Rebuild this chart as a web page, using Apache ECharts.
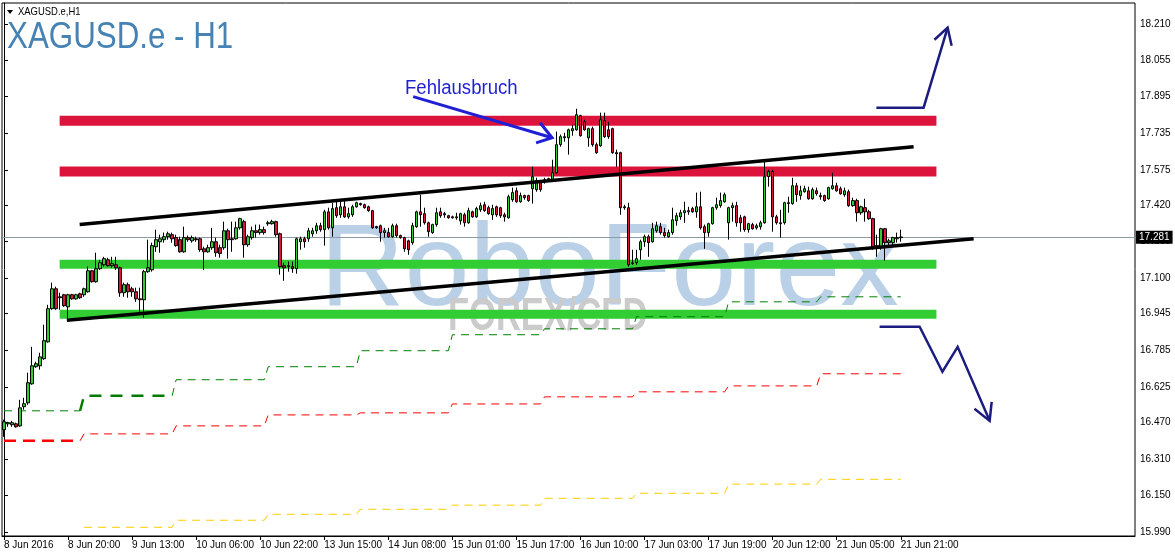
<!DOCTYPE html>
<html>
<head>
<meta charset="utf-8">
<script src="https://cdn.jsdelivr.net/npm/echarts@6/dist/echarts.min.js"></script>
<style>
  html, body { margin: 0; padding: 0; background: #ffffff; }
  #chart { width: 1175px; height: 558px; }
</style>
</head>
<body>
<div id="chart"></div>
<script>
// XAGUSD.e H1 candles, 8 Jun 2016 - 21 Jun 2016
const timeLabels = ['8 Jun 2016', '8 Jun 20:00', '9 Jun 13:00', '10 Jun 06:00', '10 Jun 22:00',
  '13 Jun 15:00', '14 Jun 08:00', '15 Jun 01:00', '15 Jun 17:00', '16 Jun 10:00',
  '17 Jun 03:00', '17 Jun 19:00', '20 Jun 12:00', '21 Jun 05:00', '21 Jun 21:00'];

const opens = [
  16.437,16.463,16.459,16.463,16.454,16.538,16.555,16.638,16.713,16.717,
  16.748,16.822,16.967,17.054,17.019,17.028,16.975,17.028,17.010,17.032,
  17.028,17.041,17.133,17.085,17.142,17.159,17.181,17.155,17.159,17.146,
  17.037,17.072,17.054,17.041,17.010,17.006,17.129,17.137,17.238,17.260,
  17.269,17.282,17.291,17.278,17.269,17.216,17.278,17.264,17.273,17.273,
  17.229,17.216,17.234,17.260,17.234,17.234,17.308,17.273,17.273,17.321,
  17.348,17.247,17.278,17.308,17.300,17.313,17.339,17.339,17.348,17.295,
  17.155,17.151,17.151,17.142,17.260,17.273,17.273,17.295,17.308,17.330,
  17.313,17.391,17.321,17.409,17.378,17.413,17.369,17.378,17.413,17.427,
  17.422,17.413,17.396,17.326,17.330,17.300,17.300,17.282,17.330,17.287,
  17.278,17.264,17.256,17.326,17.391,17.383,17.343,17.300,17.335,17.391,
  17.383,17.374,17.369,17.365,17.352,17.378,17.343,17.391,17.369,17.400,
  17.422,17.409,17.378,17.413,17.409,17.378,17.365,17.444,17.483,17.435,
  17.462,17.462,17.492,17.488,17.527,17.523,17.527,17.531,17.562,17.685,
  17.715,17.715,17.746,17.750,17.812,17.785,17.715,17.755,17.685,17.680,
  17.790,17.750,17.755,17.650,17.650,17.413,17.409,17.164,17.168,17.225,
  17.260,17.282,17.260,17.308,17.326,17.300,17.282,17.300,17.352,17.369,
  17.387,17.391,17.405,17.391,17.413,17.326,17.300,17.339,17.409,17.418,
  17.435,17.343,17.409,17.418,17.365,17.369,17.313,17.335,17.321,17.326,
  17.343,17.545,17.567,17.369,17.339,17.343,17.427,17.427,17.505,17.462,
  17.479,17.483,17.448,17.483,17.462,17.462,17.448,17.492,17.505,17.492,
  17.466,17.479,17.418,17.440,17.387,17.409,17.391,17.361,17.238,17.238,
  17.317,17.256,17.256,17.273,17.278
];

const closes = [
  16.472,16.468,16.468,16.450,16.533,16.551,16.643,16.717,16.726,16.756,
  16.827,16.967,17.054,16.967,17.015,16.980,17.028,17.010,17.028,17.015,
  17.054,17.133,17.085,17.142,17.168,17.186,17.155,17.164,17.146,17.037,
  17.072,17.041,17.041,17.010,17.006,17.129,17.146,17.243,17.269,17.273,
  17.282,17.295,17.273,17.243,17.216,17.278,17.269,17.278,17.269,17.225,
  17.216,17.234,17.260,17.212,17.208,17.308,17.269,17.269,17.321,17.361,
  17.247,17.282,17.308,17.300,17.313,17.300,17.343,17.348,17.291,17.151,
  17.146,17.155,17.142,17.273,17.273,17.260,17.308,17.308,17.330,17.313,
  17.391,17.321,17.405,17.374,17.413,17.369,17.383,17.413,17.431,17.422,
  17.409,17.396,17.321,17.321,17.300,17.308,17.282,17.330,17.287,17.278,
  17.229,17.225,17.330,17.391,17.378,17.343,17.304,17.335,17.387,17.374,
  17.378,17.365,17.365,17.369,17.383,17.343,17.396,17.369,17.405,17.418,
  17.396,17.383,17.405,17.378,17.374,17.369,17.457,17.475,17.435,17.462,
  17.453,17.440,17.545,17.527,17.488,17.531,17.536,17.562,17.685,17.720,
  17.720,17.750,17.755,17.816,17.724,17.750,17.755,17.685,17.650,17.794,
  17.720,17.720,17.650,17.645,17.409,17.409,17.159,17.168,17.186,17.260,
  17.282,17.256,17.317,17.330,17.300,17.287,17.300,17.356,17.374,17.387,
  17.396,17.396,17.391,17.413,17.321,17.300,17.339,17.409,17.422,17.440,
  17.466,17.409,17.418,17.343,17.343,17.313,17.339,17.317,17.330,17.343,
  17.545,17.567,17.369,17.343,17.343,17.431,17.431,17.505,17.466,17.483,
  17.492,17.448,17.488,17.470,17.457,17.440,17.497,17.505,17.483,17.470,
  17.483,17.418,17.440,17.387,17.413,17.391,17.361,17.238,17.243,17.317,
  17.256,17.264,17.278,17.278,17.281
];

const lows = [
  16.406,16.450,16.450,16.446,16.450,16.525,16.546,16.634,16.708,16.700,
  16.743,16.818,16.962,16.962,16.962,16.975,16.923,17.006,17.006,17.010,
  17.019,17.037,17.081,17.081,17.137,17.151,17.151,17.146,17.137,17.019,
  17.019,17.015,17.019,16.997,16.949,16.927,17.124,17.129,17.216,17.212,
  17.256,17.269,17.256,17.238,17.212,17.212,17.260,17.256,17.260,17.216,
  17.137,17.212,17.225,17.194,17.190,17.225,17.186,17.216,17.269,17.313,
  17.190,17.238,17.269,17.278,17.291,17.291,17.330,17.335,17.282,17.116,
  17.089,17.129,17.124,17.120,17.225,17.234,17.260,17.282,17.295,17.304,
  17.243,17.313,17.282,17.365,17.365,17.365,17.361,17.369,17.409,17.418,
  17.405,17.391,17.317,17.317,17.260,17.278,17.278,17.278,17.278,17.273,
  17.216,17.203,17.247,17.321,17.326,17.335,17.282,17.295,17.326,17.365,
  17.365,17.361,17.361,17.356,17.335,17.326,17.339,17.365,17.365,17.391,
  17.391,17.378,17.356,17.369,17.365,17.348,17.361,17.435,17.431,17.431,
  17.444,17.435,17.427,17.479,17.479,17.514,17.523,17.523,17.558,17.676,
  17.698,17.641,17.724,17.746,17.720,17.746,17.676,17.676,17.645,17.676,
  17.715,17.711,17.645,17.588,17.378,17.400,17.151,17.159,17.159,17.181,
  17.238,17.194,17.256,17.300,17.291,17.278,17.278,17.291,17.330,17.356,
  17.343,17.378,17.387,17.365,17.313,17.229,17.282,17.335,17.400,17.409,
  17.431,17.269,17.348,17.326,17.304,17.304,17.300,17.313,17.313,17.313,
  17.339,17.501,17.304,17.335,17.278,17.335,17.387,17.422,17.435,17.444,
  17.475,17.444,17.444,17.462,17.444,17.435,17.444,17.488,17.479,17.466,
  17.457,17.413,17.413,17.348,17.378,17.348,17.356,17.225,17.194,17.225,
  17.177,17.238,17.238,17.256,17.260
];

const highs = [
  16.481,16.472,16.476,16.468,16.568,16.577,16.687,16.800,16.735,16.774,
  16.897,16.984,17.081,17.063,17.037,17.032,17.032,17.032,17.032,17.037,
  17.059,17.151,17.137,17.212,17.181,17.194,17.190,17.194,17.194,17.151,
  17.081,17.081,17.063,17.059,17.059,17.137,17.269,17.256,17.313,17.291,
  17.300,17.304,17.300,17.291,17.282,17.326,17.287,17.287,17.282,17.278,
  17.238,17.247,17.321,17.278,17.247,17.348,17.317,17.348,17.348,17.365,
  17.356,17.291,17.326,17.335,17.335,17.326,17.352,17.356,17.352,17.300,
  17.168,17.173,17.173,17.278,17.282,17.282,17.321,17.321,17.343,17.343,
  17.400,17.409,17.431,17.440,17.435,17.440,17.409,17.422,17.435,17.431,
  17.427,17.418,17.400,17.330,17.335,17.321,17.321,17.339,17.339,17.291,
  17.282,17.269,17.343,17.396,17.466,17.409,17.348,17.339,17.409,17.409,
  17.391,17.378,17.374,17.387,17.387,17.387,17.409,17.396,17.413,17.431,
  17.435,17.418,17.422,17.418,17.413,17.387,17.466,17.497,17.497,17.475,
  17.466,17.466,17.588,17.540,17.531,17.540,17.540,17.619,17.742,17.729,
  17.737,17.755,17.772,17.842,17.816,17.794,17.759,17.764,17.694,17.825,
  17.825,17.785,17.759,17.663,17.654,17.422,17.431,17.225,17.225,17.269,
  17.291,17.291,17.343,17.348,17.343,17.321,17.313,17.409,17.387,17.400,
  17.435,17.413,17.413,17.475,17.479,17.335,17.343,17.413,17.453,17.475,
  17.475,17.413,17.431,17.435,17.378,17.374,17.343,17.343,17.339,17.352,
  17.610,17.575,17.575,17.378,17.400,17.435,17.457,17.540,17.518,17.505,
  17.505,17.501,17.497,17.497,17.475,17.466,17.501,17.562,17.518,17.501,
  17.497,17.488,17.453,17.448,17.418,17.448,17.400,17.365,17.291,17.321,
  17.321,17.273,17.282,17.300,17.313
];

// price scale labels on the right
const priceTicks = [15.990, 16.150, 16.310, 16.470, 16.625, 16.785, 16.945, 17.100,
  17.260, 17.420, 17.575, 17.735, 17.895, 18.055, 18.210];

// resistance and support zones (price levels) and their bar span
const resistanceZones = [17.790, 17.567];
const supportZones = [17.161, 16.943];
const zoneBars = [13.9, 232.9];

// rising channel: [bar, price] end points
const channelUpper = [[18.9, 17.335], [227.2, 17.676]];
const channelLower = [[15.7, 16.916], [242.2, 17.273]];

// daily indicator levels, one value per trading day
const dayStartBars = [0, 20, 43, 66, 89, 112, 135, 158, 181, 204];
const lastBar = 224;
const greenLevels = [16.520, 16.586, 16.656, 16.713, 16.783, 16.853, 16.879, 16.932, 16.997, 17.019];
const redLevels = [16.389, 16.419, 16.454, 16.502, 16.511, 16.550, 16.581, 16.603, 16.629, 16.682];
const yellowLevels = [null, 16.010, 16.041, 16.067, 16.089, 16.107, 16.137, 16.159, 16.199, 16.220];

// annotation paths: [bar, price]
const falseBreakArrow = [[102.2, 17.895], [136.9, 17.715]];
const falseBreakHead = [[133.9, 17.781], [136.9, 17.715], [132.9, 17.693]];
const upScenario = [[217.9, 17.847], [229.7, 17.847], [235.7, 18.197]];
const upScenarioHead = [[232.4, 18.144], [235.7, 18.197], [236.7, 18.118]];
const downScenario = [[218.7, 16.888], [228.7, 16.888], [234.4, 16.691], [238.2, 16.800], [246.2, 16.476]];
const downScenarioHead = [[242.4, 16.529], [246.2, 16.476], [246.7, 16.559]];

const slotCount = 283;
const labelEvery = 16;
const lastPrice = closes[closes.length - 1];

const categories = Array.from({ length: slotCount }, (_, i) => String(i));
const candles = opens.map((o, i) => [o, closes[i], lows[i], highs[i]]);
const showLabel = (index) => index % labelEvery === 0 && index / labelEvery < timeLabels.length;

function overlay(data, color, width, z, dash) {
  return {
    type: 'line', xAxisIndex: 1, yAxisIndex: 0, data: data,
    symbol: 'none', silent: true, z: z, animation: false,
    lineStyle: { color: color, width: width, type: dash || 'solid', cap: 'butt', join: 'miter' }
  };
}

function levelRuns(levels, thickDay) {
  // split the stepped polyline into thin and thick runs
  const runs = [];
  let cur = [];
  let curThick = null;
  for (let d = 0; d < levels.length; d++) {
    if (levels[d] == null) continue;
    const start = dayStartBars[d];
    const end = d + 1 < dayStartBars.length ? dayStartBars[d + 1] - 1 : lastBar;
    const thick = d === thickDay;
    if (curThick !== null && thick !== curThick) {
      runs.push({ thick: curThick, pts: cur });
      cur = [cur[cur.length - 1]];
    }
    curThick = thick;
    cur.push([start, levels[d]], [end, levels[d]]);
  }
  runs.push({ thick: curThick, pts: cur });
  return runs;
}

const series = [];

series.push({
  type: 'candlestick', name: 'XAGUSD.e', data: candles, barWidth: 3, z: 20,
  animation: false, silent: true,
  itemStyle: { color: '#32cd32', color0: '#dc143c', borderColor: '#000000', borderColor0: '#000000', borderWidth: 1 },
  markLine: {
    silent: true, symbol: ['none', 'none'], animation: false,
    lineStyle: { color: '#8c9aa8', width: 1, type: 'solid' },
    label: {
      position: 'end', distance: 1, formatter: () => lastPrice.toFixed(3),
      color: '#ffffff', backgroundColor: '#000000', padding: [2, 3, 1, 3],
      fontFamily: 'Liberation Sans', fontSize: 10
    },
    data: [{ yAxis: lastPrice }]
  }
});

resistanceZones.forEach(p => series.push(overlay([[zoneBars[0], p], [zoneBars[1], p]], '#dc143c', 10, 12)));
supportZones.forEach(p => series.push(overlay([[zoneBars[0], p], [zoneBars[1], p]], '#32cd32', 9, 12)));

levelRuns(greenLevels, 1).forEach(r => series.push(
  overlay(r.pts, r.thick ? '#007a00' : '#008000', r.thick ? 2.5 : 1, 14, r.thick ? [12, 9] : [8, 6])));
levelRuns(redLevels, 0).forEach(r => series.push(
  overlay(r.pts, '#ff0000', r.thick ? 2.5 : 1, 14, r.thick ? [12, 7] : [8, 6])));
levelRuns(yellowLevels, -1).forEach(r => series.push(
  overlay(r.pts, '#ffcc00', 1, 14, [8, 6])));

series.push(overlay(channelUpper, '#000000', 3.5, 25));
series.push(overlay(channelLower, '#000000', 3.5, 25));

series.push(overlay(falseBreakArrow, '#1f1fd6', 3, 26));
series.push(overlay(falseBreakHead, '#1f1fd6', 3, 26));
series.push(overlay(upScenario, '#1c1c80', 2.5, 26));
series.push(overlay(upScenarioHead, '#1c1c80', 2.5, 26));
series.push(overlay(downScenario, '#1c1c80', 2.5, 26));
series.push(overlay(downScenarioHead, '#1c1c80', 2.5, 26));

const chart = echarts.init(document.getElementById('chart'), null, { renderer: 'canvas' });

chart.setOption({
  animation: false,
  backgroundColor: '#ffffff',
  grid: { left: 2, right: 40, top: 3, bottom: 22, show: true, borderColor: '#000000', borderWidth: 1, backgroundColor: 'transparent' },
  xAxis: [
    {
      type: 'category', data: categories, boundaryGap: true, position: 'bottom',
      axisLine: { show: true, lineStyle: { color: '#000000', width: 1 } },
      axisTick: { show: true, alignWithLabel: true, length: 4, interval: showLabel, lineStyle: { color: '#000000' } },
      axisLabel: {
        interval: showLabel, align: 'left', margin: 4,
        formatter: (v) => timeLabels[Number(v) / labelEvery] || '',
        color: '#000000', fontFamily: 'Liberation Sans', fontSize: 10
      },
      splitLine: { show: false }
    },
    { type: 'value', min: -0.5, max: slotCount - 0.5, show: false }
  ],
  yAxis: [{
    type: 'value', position: 'right', min: 15.972, max: 18.305, scale: true,
    axisLine: { show: true, lineStyle: { color: '#000000', width: 1 } },
    axisTick: { show: true, length: 4, customValues: priceTicks, lineStyle: { color: '#000000' } },
    axisLabel: {
      customValues: priceTicks, margin: 5, formatter: (v) => v.toFixed(3),
      color: '#000000', fontFamily: 'Liberation Sans', fontSize: 10
    },
    splitLine: { show: false }
  }],
  graphic: [
    { type: 'text', x: 320, y: 273, z: -10, silent: true,
      style: { text: 'RoboForex', font: '117px "Liberation Sans"', fill: '#bad0e7', verticalAlign: 'middle', align: 'left' } },
    { type: 'text', x: 448, y: 317, z: -10, silent: true, scaleX: 0.75,
      style: { text: 'FOREX/CFD', font: 'bold 46px "Liberation Sans"', fill: '#cbcbcb', verticalAlign: 'middle', align: 'left' } },
    { type: 'polygon', z: 30, silent: true,
      shape: { points: [[7, 10], [13, 10], [10, 14]] }, style: { fill: '#000000' } },
    { type: 'text', x: 18, y: 12, z: 30, silent: true, scaleX: 0.86,
      style: { text: 'XAGUSD.e,H1', font: '11px "Liberation Sans"', fill: '#000000', verticalAlign: 'middle' } },
    { type: 'text', x: 7, y: 38, z: 30, silent: true, scaleX: 0.87,
      style: { text: 'XAGUSD.e - H1', font: '36px "Liberation Sans"', fill: '#4682b4', verticalAlign: 'middle' } },
    { type: 'text', x: 405, y: 88, z: 30, silent: true, scaleX: 0.93,
      style: { text: 'Fehlausbruch', font: '20px "Liberation Sans"', fill: '#1f1fd6', verticalAlign: 'middle' } }
  ],
  series: series
});
</script>
</body>
</html>
